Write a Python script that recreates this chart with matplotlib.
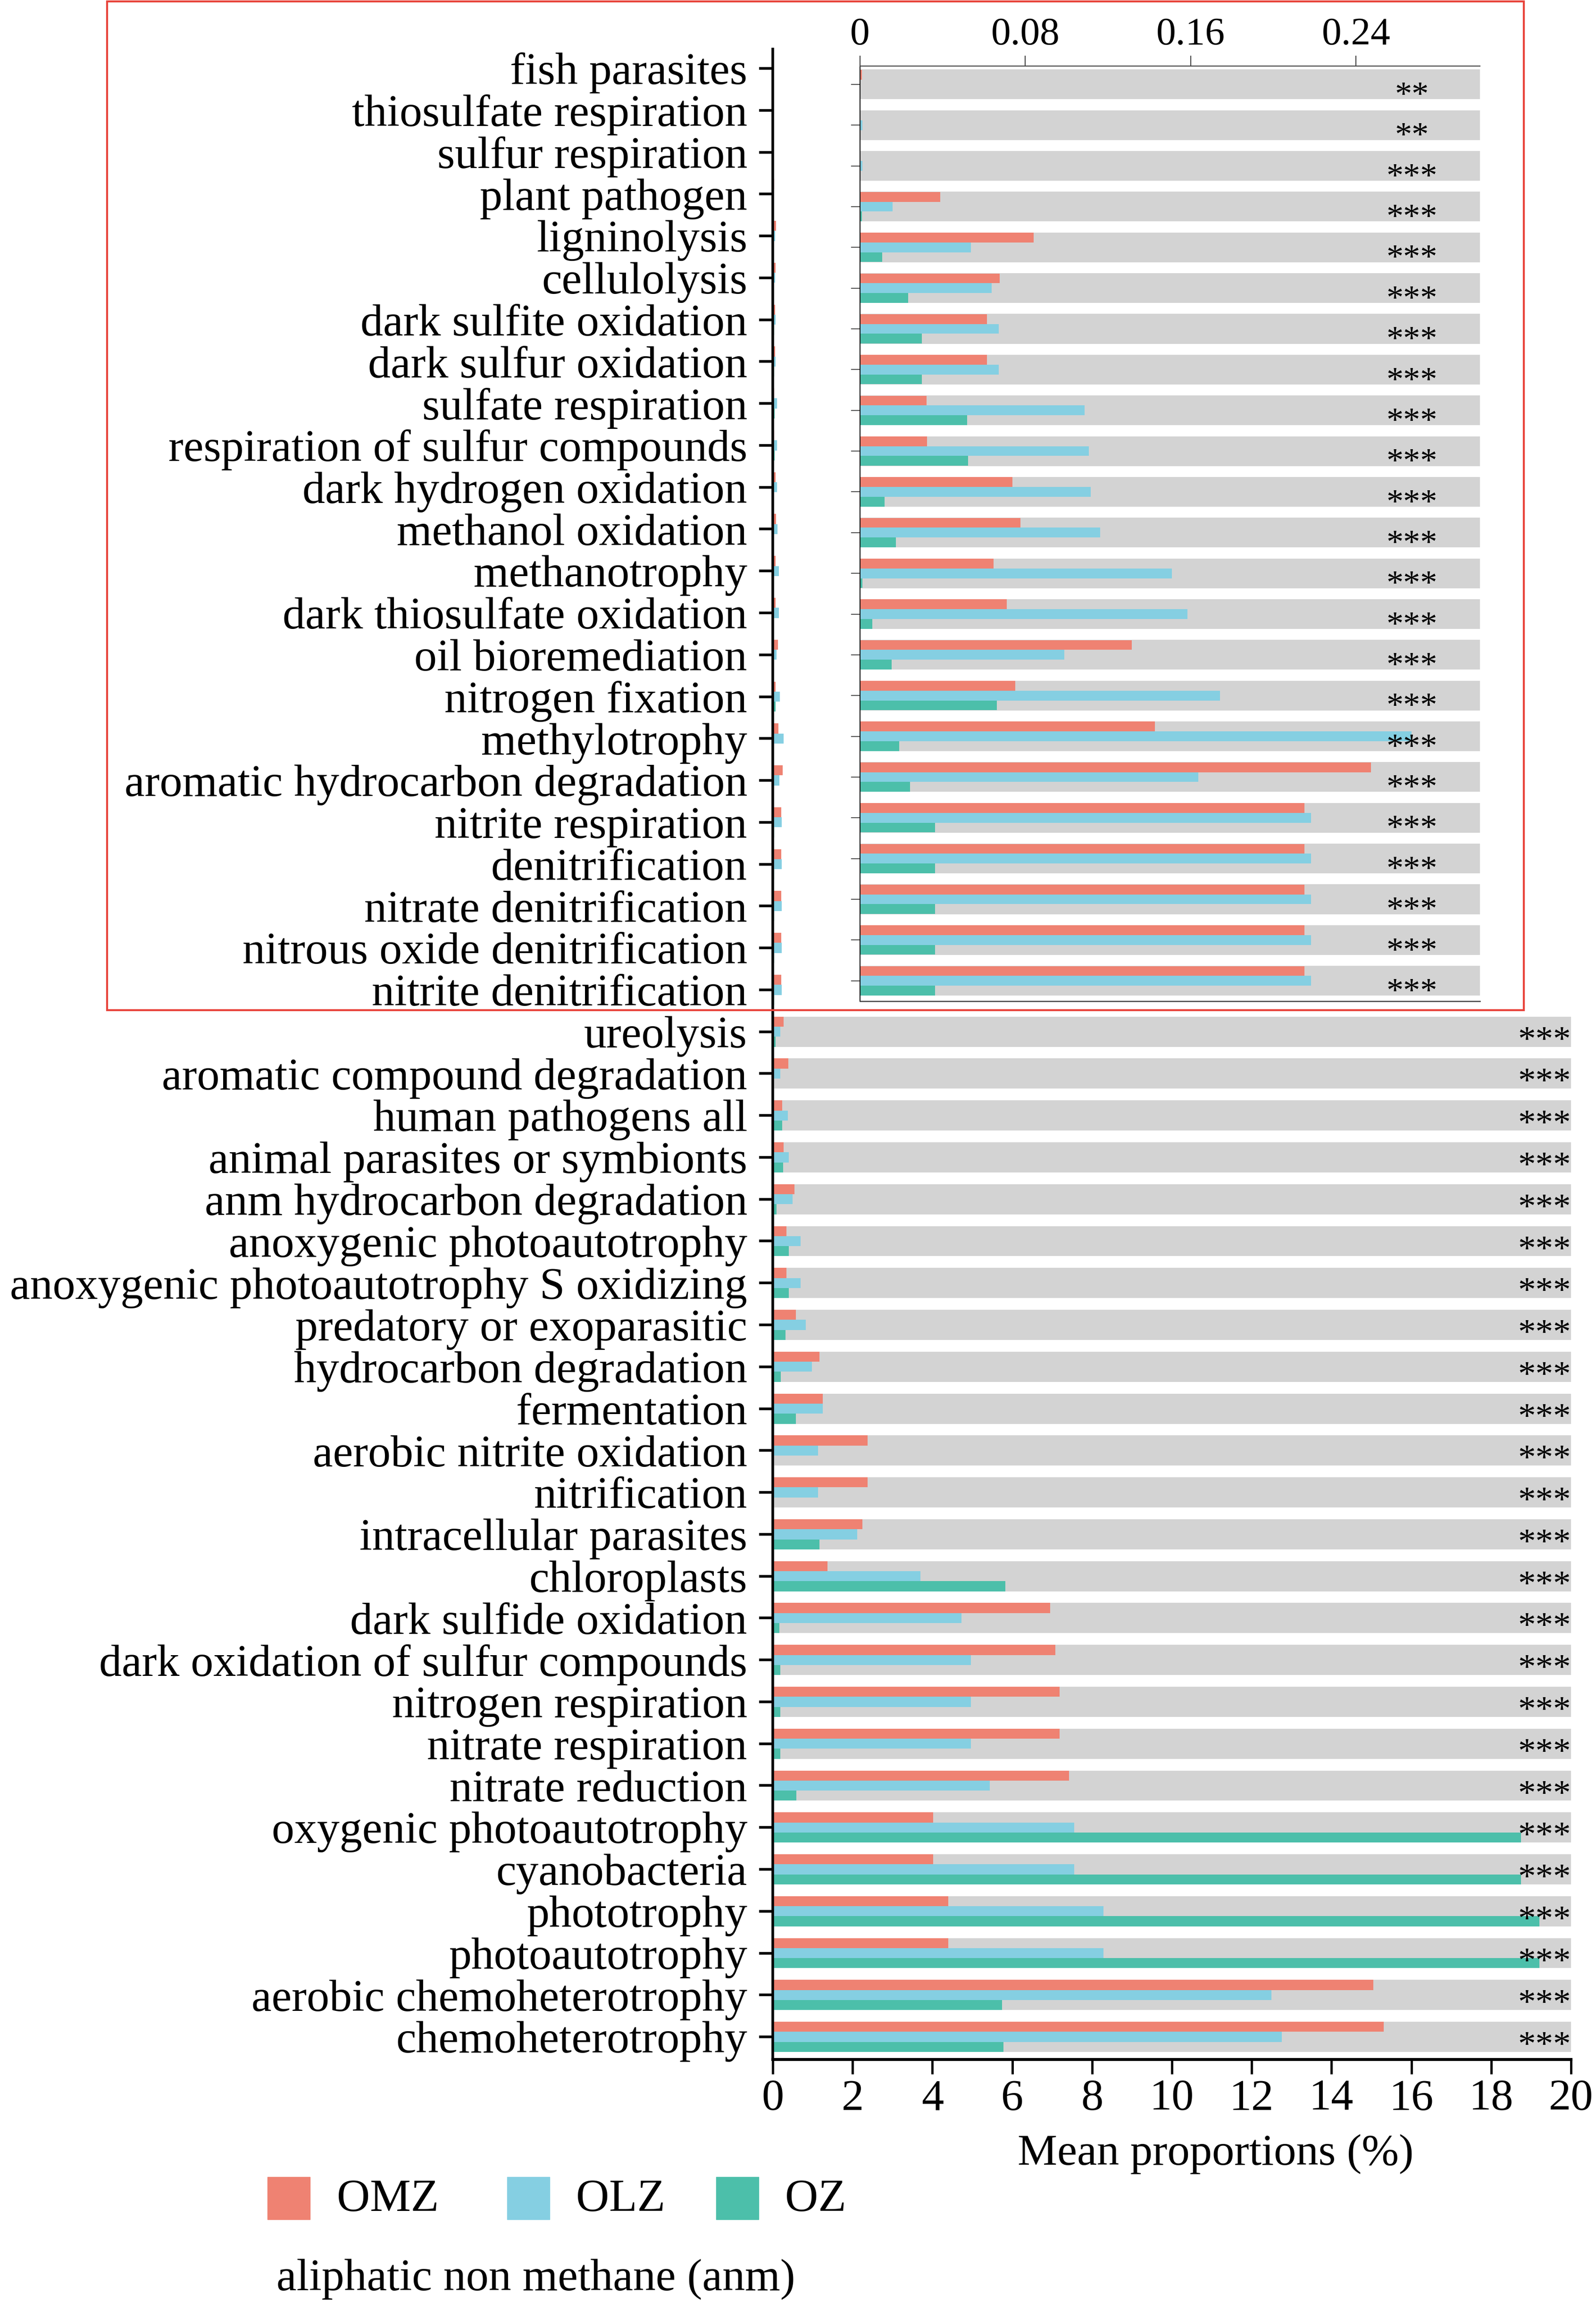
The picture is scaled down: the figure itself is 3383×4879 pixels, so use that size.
import matplotlib
matplotlib.use('Agg')
import matplotlib.pyplot as plt
from matplotlib.patches import Rectangle

plt.rcParams['font.family'] = ['Liberation Serif', 'DejaVu Serif']

# functions in the upper block (magnified in the inset), mean proportions in %
top_functions = ['fish parasites', 'thiosulfate respiration', 'sulfur respiration',
                 'plant pathogen', 'ligninolysis', 'cellulolysis', 'dark sulfite oxidation',
                 'dark sulfur oxidation', 'sulfate respiration',
                 'respiration of sulfur compounds', 'dark hydrogen oxidation',
                 'methanol oxidation', 'methanotrophy', 'dark thiosulfate oxidation',
                 'oil bioremediation', 'nitrogen fixation', 'methylotrophy',
                 'aromatic hydrocarbon degradation', 'nitrite respiration',
                 'denitrification', 'nitrate denitrification',
                 'nitrous oxide denitrification', 'nitrite denitrification']
top_omz = [0.0010, 0.0003, 0.0003, 0.0388, 0.0841, 0.0676, 0.0614, 0.0614, 0.0321,
           0.0324, 0.0738, 0.0777, 0.0647, 0.0709, 0.1315, 0.0751, 0.1427, 0.2472,
           0.2151, 0.2151, 0.2151, 0.2151, 0.2151]
top_olz = [0.0002, 0.0012, 0.0012, 0.0158, 0.0536, 0.0637, 0.0671, 0.0671, 0.1087,
           0.1106, 0.1116, 0.1162, 0.1510, 0.1584, 0.0989, 0.1742, 0.2669, 0.1636,
           0.2183, 0.2183, 0.2183, 0.2183, 0.2183]
top_oz = [0.0002, 0.0003, 0.0003, 0.0010, 0.0106, 0.0233, 0.0300, 0.0300, 0.0518,
          0.0523, 0.0119, 0.0173, 0.0012, 0.0060, 0.0153, 0.0663, 0.0189, 0.0241,
          0.0362, 0.0362, 0.0362, 0.0362, 0.0362]
top_sig = ['**', '**'] + ['***'] * 21

# lower block
bottom_functions = ['ureolysis', 'aromatic compound degradation', 'human pathogens all',
                    'animal parasites or symbionts', 'anm hydrocarbon degradation',
                    'anoxygenic photoautotrophy', 'anoxygenic photoautotrophy S oxidizing',
                    'predatory or exoparasitic', 'hydrocarbon degradation', 'fermentation',
                    'aerobic nitrite oxidation', 'nitrification', 'intracellular parasites',
                    'chloroplasts', 'dark sulfide oxidation',
                    'dark oxidation of sulfur compounds', 'nitrogen respiration',
                    'nitrate respiration', 'nitrate reduction', 'oxygenic photoautotrophy',
                    'cyanobacteria', 'phototrophy', 'photoautotrophy',
                    'aerobic chemoheterotrophy', 'chemoheterotrophy']
bottom_omz = [0.27, 0.39, 0.24, 0.27, 0.54, 0.34, 0.34, 0.58, 1.17, 1.25, 2.37, 2.37,
              2.24, 1.37, 6.95, 7.08, 7.19, 7.19, 7.42, 4.02, 4.02, 4.40, 4.40,
              15.05, 15.31]
bottom_olz = [0.19, 0.19, 0.38, 0.40, 0.50, 0.70, 0.70, 0.83, 0.98, 1.25, 1.13, 1.14,
              2.12, 3.70, 4.73, 4.96, 4.96, 4.96, 5.44, 7.55, 7.55, 8.29, 8.29,
              12.49, 12.76]
bottom_oz = [0.07, 0.02, 0.24, 0.26, 0.09, 0.40, 0.40, 0.32, 0.20, 0.58, 0.01, 0.01,
             1.17, 5.83, 0.16, 0.19, 0.19, 0.19, 0.59, 18.75, 18.75, 19.21, 19.21,
             5.75, 5.78]
bottom_sig = ['***'] * 25

groups = ['OMZ', 'OLZ', 'OZ']
colors = ['#EF8272', '#85CFE2', '#4CBFAA']
band_color = '#D3D3D3'

functions = top_functions + bottom_functions
series = [top_omz + bottom_omz, top_olz + bottom_olz, top_oz + bottom_oz]
n = len(functions)
n_top = len(top_functions)
h = 0.24

fig = plt.figure(figsize=(33.83, 48.79), dpi=100)

# ---- main axis
ax = fig.add_axes([0.4842, 0.10535, 0.5001, 0.8733])
rows = list(range(n))
ax.barh(rows[n_top:], 20, height=0.72, color=band_color, zorder=0)
for k, vals in enumerate(series):
    ax.barh([r + (k - 1) * h for r in rows], vals, height=h, color=colors[k], zorder=2)
for r, s in zip(rows[n_top:], bottom_sig):
    ax.text(19.34, r + 0.44, s, ha='center', va='baseline', fontsize=54, zorder=3)

ax.set_xlim(0, 20)
ax.set_ylim(n - 0.46, -0.46)
ax.set_xticks(range(0, 21, 2))
ax.set_yticks(rows)
ax.set_yticklabels(functions)
ax.tick_params(axis='y', labelsize=69, length=21, width=4, pad=18)
ax.tick_params(axis='x', labelsize=68, length=22, width=3.5, pad=8)
for side in ['top', 'right']:
    ax.spines[side].set_visible(False)
ax.spines['left'].set_linewidth(4)
ax.spines['bottom'].set_linewidth(4.5)

# ---- inset, magnified upper block
ax2 = fig.add_axes([0.5389, 0.5651, 0.3884, 0.4062])
top_rows = list(range(n_top))
ax2.barh(top_rows, 0.3, height=0.73, color=band_color, zorder=0)
for k, vals in enumerate([top_omz, top_olz, top_oz]):
    ax2.barh([r + (k - 1) * h for r in top_rows], vals, height=h, color=colors[k], zorder=2)
for r, s in zip(top_rows, top_sig):
    ax2.text(0.267, r + 0.5, s, ha='center', va='baseline', fontsize=52, zorder=3)

ax2.set_xlim(0, 0.3)
ax2.set_ylim(n_top - 0.5, -0.45)
ax2.xaxis.tick_top()
ax2.set_xticks([0, 0.08, 0.16, 0.24])
ax2.set_xticklabels(['0', '0.08', '0.16', '0.24'])
ax2.set_yticks(top_rows)
ax2.set_yticklabels([])
ax2.tick_params(axis='x', labelsize=60, length=16, width=1.5, pad=4, color='#444444')
ax2.tick_params(axis='y', length=14, width=1.5, color='#555555')
ax2.spines['right'].set_visible(False)
ax2.spines['left'].set_linewidth(1.5)
ax2.spines['top'].set_linewidth(1.5)
ax2.spines['top'].set_color('#444444')
ax2.spines['bottom'].set_linewidth(1.8)
ax2.spines['bottom'].set_color('#444444')

# red frame round the magnified block
fig.patches.append(Rectangle((0.0671, 0.5612), 0.9548 - 0.0671, 0.9994 - 0.5612,
                             transform=fig.transFigure, fill=False,
                             edgecolor='#E8433B', linewidth=3))

fig.text(0.7617, 0.0596, 'Mean proportions (%)', ha='center', va='baseline', fontsize=68)

# legend
W, H = 3383, 4879
patch_x = [567, 1075, 1518]
text_x = [714, 1221, 1664]
for g, c, px, tx in zip(groups, colors, patch_x, text_x):
    fig.patches.append(Rectangle((px / W, 1 - 4704 / H), 90 / W, 90 / H,
                                 transform=fig.transFigure, color=c))
    fig.text(tx / W, 1 - 4686 / H, g, ha='left', va='baseline', fontsize=70)
fig.text(586 / W, 1 - 4854 / H, 'aliphatic non methane (anm)', ha='left',
         va='baseline', fontsize=69)

fig.savefig('out.png', dpi=100)
